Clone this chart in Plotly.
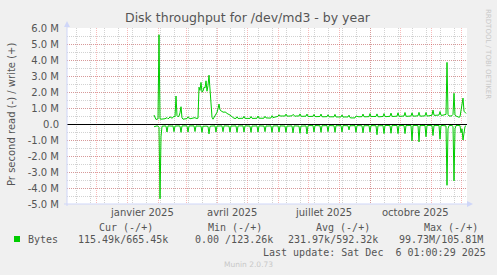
import plotly.graph_objects as go
import pandas as pd

# ---------------- data (MB/s, daily) ----------------
start_date = "2025-01-28"

write_mb = [
    0.56, 0.40, 0.28, 0.30, 0.32, 5.58, 0.32,
    0.30, 0.30, 0.31, 0.30, 0.33, 0.36, 0.40,
    0.33, 0.36, 0.45, 0.38, 0.36, 0.42, 0.48,
    0.45, 1.75, 0.52, 0.45, 0.50, 0.70, 1.08,
    0.38, 0.30, 0.30, 0.31, 0.30, 0.34, 0.45,
    0.35, 0.33, 0.34, 0.35, 0.34, 0.35, 0.40,
    0.35, 0.34, 0.36, 2.30, 2.10, 2.60, 2.00,
    2.05, 2.30, 2.25, 2.70, 2.05, 2.40, 3.05,
    2.10, 1.20, 0.42, 0.30, 0.40, 0.52, 0.65,
    0.73, 0.95, 1.25, 0.88, 0.80, 0.78, 0.75,
    0.73, 0.76, 0.70, 0.68, 0.62, 0.60, 0.55,
    0.50, 0.42, 0.38, 0.36, 0.35, 0.35, 0.45,
    0.35, 0.35, 0.36, 0.35, 0.35, 0.36, 0.48,
    0.36, 0.35, 0.36, 0.35, 0.34, 0.35, 0.47,
    0.36, 0.35, 0.35, 0.36, 0.35, 0.36, 0.50,
    0.37, 0.36, 0.35, 0.37, 0.36, 0.37, 0.48,
    0.38, 0.37, 0.36, 0.38, 0.37, 0.38, 0.52,
    0.40, 0.42, 0.44, 0.46, 0.47, 0.48, 0.58,
    0.50, 0.50, 0.49, 0.50, 0.51, 0.50, 0.62,
    0.50, 0.49, 0.50, 0.52, 0.50, 0.51, 0.60,
    0.50, 0.48, 0.50, 0.49, 0.50, 0.50, 0.63,
    0.49, 0.48, 0.49, 0.50, 0.48, 0.49, 0.62,
    0.48, 0.47, 0.48, 0.49, 0.48, 0.48, 0.60,
    0.47, 0.46, 0.47, 0.48, 0.47, 0.47, 0.62,
    0.46, 0.45, 0.46, 0.47, 0.46, 0.46, 0.58,
    0.45, 0.45, 0.46, 0.45, 0.46, 0.45, 0.60,
    0.44, 0.44, 0.45, 0.44, 0.45, 0.44, 0.57,
    0.43, 0.44, 0.43, 0.44, 0.43, 0.44, 0.55,
    0.40, 0.38, 0.37, 0.38, 0.37, 0.38, 0.50,
    0.45, 0.46, 0.45, 0.46, 0.45, 0.46, 0.62,
    0.46, 0.45, 0.46, 0.47, 0.46, 0.46, 0.65,
    0.46, 0.47, 0.46, 0.47, 0.46, 0.47, 0.63,
    0.46, 0.45, 0.46, 0.47, 0.46, 0.47, 0.65,
    0.47, 0.46, 0.47, 0.48, 0.47, 0.48, 0.68,
    0.48, 0.47, 0.48, 0.49, 0.48, 0.49, 0.70,
    0.49, 0.48, 0.49, 0.50, 0.49, 0.50, 0.72,
    0.49, 0.48, 0.49, 0.50, 0.49, 0.50, 0.70,
    0.50, 0.49, 0.50, 0.51, 0.50, 0.51, 0.73,
    0.50, 0.49, 0.50, 0.51, 0.50, 0.51, 0.72,
    0.51, 0.50, 0.51, 0.52, 0.51, 0.55, 0.87,
    0.55, 0.54, 0.55, 0.56, 0.55, 0.56, 0.78,
    0.55, 0.54, 0.55, 0.56, 0.55, 0.60, 3.85,
    0.60, 0.50, 0.48, 0.50, 0.52, 0.60, 1.92,
    0.55, 0.50, 0.48, 0.45, 0.42, 0.45, 0.90,
    1.20, 1.62, 0.80, 0.70, 0.66,
]

read_mb = [
    0.17, 0.15, 0.12, 0.12, 0.13, 0.20, 4.67,
    0.80, 0.14, 0.12, 0.13, 0.12, 0.13, 0.50,
    0.12, 0.13, 0.12, 0.12, 0.13, 0.12, 0.48,
    0.13, 0.12, 0.13, 0.12, 0.12, 0.13, 0.52,
    0.12, 0.12, 0.13, 0.12, 0.13, 0.12, 0.50,
    0.13, 0.12, 0.12, 0.13, 0.12, 0.12, 0.47,
    0.12, 0.13, 0.12, 0.15, 0.14, 0.13, 0.52,
    0.13, 0.14, 0.12, 0.13, 0.14, 0.15, 0.62,
    0.15, 0.13, 0.12, 0.12, 0.13, 0.12, 0.50,
    0.12, 0.13, 0.12, 0.12, 0.13, 0.12, 0.48,
    0.12, 0.12, 0.13, 0.12, 0.12, 0.13, 0.50,
    0.12, 0.13, 0.12, 0.12, 0.13, 0.12, 0.52,
    0.13, 0.12, 0.12, 0.13, 0.12, 0.12, 0.50,
    0.12, 0.12, 0.13, 0.12, 0.12, 0.13, 0.52,
    0.12, 0.13, 0.12, 0.12, 0.13, 0.12, 0.50,
    0.12, 0.12, 0.13, 0.12, 0.12, 0.13, 0.48,
    0.12, 0.13, 0.12, 0.12, 0.13, 0.12, 0.52,
    0.13, 0.12, 0.12, 0.13, 0.12, 0.12, 0.50,
    0.12, 0.12, 0.13, 0.12, 0.12, 0.13, 0.52,
    0.12, 0.13, 0.12, 0.12, 0.13, 0.12, 0.55,
    0.12, 0.12, 0.13, 0.12, 0.12, 0.13, 0.58,
    0.12, 0.13, 0.12, 0.12, 0.13, 0.12, 0.62,
    0.11, 0.10, 0.10, 0.11, 0.10, 0.10, 0.50,
    0.10, 0.10, 0.11, 0.10, 0.10, 0.11, 0.52,
    0.10, 0.11, 0.10, 0.10, 0.11, 0.10, 0.48,
    0.10, 0.10, 0.11, 0.10, 0.10, 0.11, 0.52,
    0.10, 0.11, 0.10, 0.10, 0.11, 0.10, 0.50,
    0.10, 0.10, 0.11, 0.10, 0.10, 0.11, 0.37,
    0.10, 0.11, 0.10, 0.10, 0.11, 0.10, 0.52,
    0.10, 0.10, 0.11, 0.10, 0.10, 0.11, 0.55,
    0.10, 0.11, 0.10, 0.10, 0.11, 0.10, 0.50,
    0.10, 0.10, 0.11, 0.10, 0.10, 0.11, 0.67,
    0.10, 0.11, 0.10, 0.10, 0.11, 0.10, 0.60,
    0.09, 0.09, 0.10, 0.09, 0.09, 0.10, 0.58,
    0.09, 0.10, 0.09, 0.09, 0.10, 0.09, 0.60,
    0.09, 0.09, 0.10, 0.09, 0.09, 0.10, 0.60,
    0.09, 0.10, 0.09, 0.09, 0.10, 0.09, 1.05,
    0.09, 0.09, 0.10, 0.09, 0.09, 0.10, 1.12,
    0.09, 0.10, 0.09, 0.09, 0.10, 0.09, 0.80,
    0.09, 0.09, 0.10, 0.09, 0.09, 0.10, 0.72,
    0.09, 0.10, 0.09, 0.09, 0.10, 0.09, 0.95,
    0.09, 0.09, 0.10, 0.09, 0.09, 0.12, 3.83,
    0.30, 0.10, 0.09, 0.10, 0.09, 0.15, 3.55,
    0.30, 0.10, 0.09, 0.10, 0.09, 0.10, 0.55,
    0.30, 1.00, 0.40, 0.15, 0.115,
]

y_tick_vals = [-5, -4, -3, -2, -1, 0, 1, 2, 3, 4, 5, 6]
y_tick_text = ["-5.0 M", "-4.0 M", "-3.0 M", "-2.0 M", "-1.0 M", "0.0",
               "1.0 M", "2.0 M", "3.0 M", "4.0 M", "5.0 M", "6.0 M"]
x_label_dates = ["2025-01-16", "2025-04-16", "2025-07-16", "2025-10-16"]
x_label_text = ["janvier 2025", "avril 2025", "juillet 2025", "octobre 2025"]
x_range = ["2024-11-02", "2025-12-07"]
month_starts = pd.date_range("2024-12-01", "2025-12-01", freq="MS")
biweekly = pd.date_range("2024-11-11", "2025-12-07", freq="14D")

legend_header = ["Cur (-/+)", "Min (-/+)", "Avg (-/+)", "Max (-/+)"]
legend_values = ["115.49k/665.45k", "0.00 /123.26k", "231.97k/592.32k", "99.73M/105.81M"]

# ---------------- figure ----------------
W, H = 497, 275
L, R, T, B = 67, 30, 28, 71
PW, PH = W - L - R, H - T - B


def px(xp):
    return (xp - L) / PW


def py(yp):
    return (T + PH - yp) / PH


dates = pd.date_range(start_date, periods=len(write_mb), freq="D")
GREEN = "#00cc00"
FONT = "DejaVu Sans"
MONO = "DejaVu Sans Mono"
TXT = "#555555"
AXC = "#CFD6F8"
MGRID = "rgba(229,0,0,0.27)"
GRID = "rgba(143,143,143,0.40)"

fig = go.Figure()
fig.add_trace(go.Scatter(x=dates, y=write_mb, mode="lines",
                         line=dict(color=GREEN, width=1), hoverinfo="skip"))
fig.add_trace(go.Scatter(x=dates, y=[-v for v in read_mb], mode="lines",
                         line=dict(color=GREEN, width=1), hoverinfo="skip"))

fig.update_layout(
    width=W, height=H, autosize=False,
    margin=dict(l=L, r=R, t=T, b=B, pad=0),
    paper_bgcolor="#F0F0F0", plot_bgcolor="#FFFFFF",
    showlegend=False,
    font=dict(family=FONT, size=10, color=TXT),
    xaxis=dict(
        type="date", range=x_range, tickmode="array", tickvals=list(month_starts),
        showticklabels=False, ticks="", showgrid=True,
        gridcolor=MGRID, griddash="1px,1px", gridwidth=1,
        minor=dict(tickmode="array", tickvals=list(biweekly), showgrid=True,
                   gridcolor=GRID, griddash="1px,1px", gridwidth=1),
        zeroline=False, showline=False, fixedrange=True,
    ),
    yaxis=dict(
        range=[-5, 6], tickmode="array", tickvals=y_tick_vals, ticktext=y_tick_text,
        ticks="", ticklabelstandoff=7, showgrid=True,
        gridcolor=MGRID, griddash="1px,1px", gridwidth=1,
        minor=dict(dtick=0.5, showgrid=True,
                   gridcolor=GRID, griddash="1px,1px", gridwidth=1),
        zeroline=True, zerolinecolor="#000000", zerolinewidth=1,
        showline=False, fixedrange=True,
        tickfont=dict(family=FONT, size=10, color=TXT),
    ),
)

shapes = []
# axis lines + arrows
shapes.append(dict(type="line", xref="paper", yref="paper", x0=px(67), x1=px(67),
                   y0=py(206), y1=py(24), line=dict(color=AXC, width=1)))
shapes.append(dict(type="line", xref="paper", yref="paper", x0=px(64), x1=px(469),
                   y0=py(204), y1=py(204), line=dict(color=AXC, width=1)))
shapes.append(dict(type="path", xref="paper", yref="paper",
                   path=f"M {px(64)} {py(27)} L {px(70)} {py(27)} L {px(67)} {py(21)} Z",
                   fillcolor=AXC, line=dict(color=AXC, width=0)))
shapes.append(dict(type="path", xref="paper", yref="paper",
                   path=f"M {px(467)} {py(201)} L {px(467)} {py(207)} L {px(473)} {py(204)} Z",
                   fillcolor=AXC, line=dict(color=AXC, width=0)))
# legend square
shapes.append(dict(type="rect", xref="paper", yref="paper", x0=px(14), x1=px(20),
                   y0=py(242), y1=py(236), fillcolor=GREEN, line=dict(width=0)))
fig.update_layout(shapes=shapes)

ann = []
# title
ann.append(dict(text="Disk throughput for /dev/md3 - by year", xref="paper", yref="paper",
                x=px(248), y=py(18), xanchor="center", yanchor="middle", showarrow=False,
                font=dict(family=FONT, size=12.5, color=TXT)))
# y title
ann.append(dict(text="Pr second read (-) / write (+)", xref="paper", yref="paper",
                x=px(11), y=py(114), xanchor="center", yanchor="middle", showarrow=False,
                textangle=-90, font=dict(family=FONT, size=10, color=TXT)))
# rrdtool credit
ann.append(dict(text="RRDTOOL / TOBI OETIKER", xref="paper", yref="paper",
                x=px(488), y=py(54), xanchor="center", yanchor="middle", showarrow=False,
                textangle=90, font=dict(family=FONT, size=7, color="#C8C8C8")))
# x labels
for d, t in zip(x_label_dates, x_label_text):
    ann.append(dict(text=t, xref="x", yref="paper", x=d, y=py(212),
                    xanchor="center", yanchor="middle", showarrow=False,
                    font=dict(family=FONT, size=10, color=TXT)))
# legend
hdr_x = [98, 207, 315, 423]
val_x = [77, 194, 287, 398]
for t, xx in zip(legend_header, hdr_x):
    ann.append(dict(text=t, xref="paper", yref="paper", x=px(xx - 1), y=py(227.5),
                    xanchor="left", yanchor="middle", showarrow=False,
                    font=dict(family=MONO, size=10, color=TXT)))
for t, xx in zip(legend_values, val_x):
    ann.append(dict(text=t, xref="paper", yref="paper", x=px(xx - 1), y=py(239.5),
                    xanchor="left", yanchor="middle", showarrow=False,
                    font=dict(family=MONO, size=10, color=TXT)))
ann.append(dict(text="Bytes", xref="paper", yref="paper", x=px(26), y=py(239.5),
                xanchor="left", yanchor="middle", showarrow=False,
                font=dict(family=MONO, size=10, color=TXT)))
ann.append(dict(text="Last update: Sat Dec \u00a06 01:00:29 2025", xref="paper", yref="paper",
                x=px(261), y=py(252), xanchor="left", yanchor="middle", showarrow=False,
                font=dict(family=MONO, size=10, color=TXT)))
ann.append(dict(text="Munin 2.0.73", xref="paper", yref="paper",
                x=px(248), y=py(264), xanchor="center", yanchor="middle", showarrow=False,
                font=dict(family=FONT, size=7.5, color="#C8C8C8")))
fig.update_layout(annotations=ann)

fig.write_html("out.html")
